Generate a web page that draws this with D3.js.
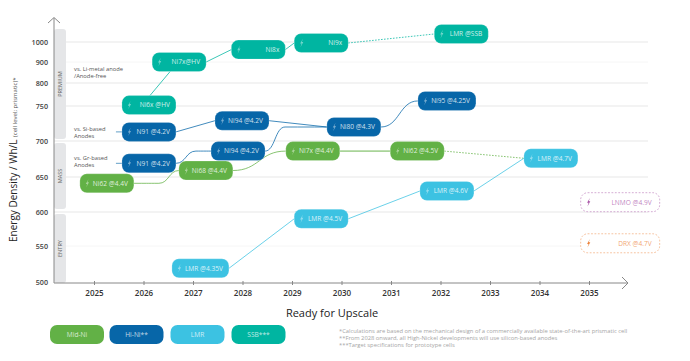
<!DOCTYPE html>
<html>
<head>
<meta charset="utf-8">
<script src="https://cdn.jsdelivr.net/npm/d3@7"></script>
<style>
  html, body { margin: 0; padding: 0; background: #fff; }
  svg { display: block; font-family: "Open Sans", sans-serif; }
</style>
</head>
<body>
<div id="chart"></div>
<script>
const years = [2025, 2026, 2027, 2028, 2029, 2030, 2031, 2032, 2033, 2034, 2035];
const densityTicks = [500, 550, 600, 650, 700, 750, 800, 900, 1000];
const strongGrid = [600, 650, 700, 750, 800, 1000];
const faintGrid = [550, 900];

const pillLabels = ["Ni62 @4.4V", "Ni6x @HV", "Ni7x@HV", "Ni8x", "Ni9x", "LMR @SSB", "N91 @4.2V", "Ni94 @4.2V", "N91 @4.2V", "Ni94 @4.2V", "Ni68 @4.4V", "Ni80 @4.3V", "Ni95 @4.25V", "Ni7x @4.4V", "Ni62 @4.5V", "LMR @4.7V", "LMR @4.35V", "LMR @4.5V", "LMR @4.6V", "LNMO @4.9V", "DRX @4.7V"];
const pillYears = [2025.26, 2026.11, 2026.72, 2028.32, 2029.59, 2032.42, 2026.11, 2027.99, 2026.11, 2027.91, 2027.26, 2030.25, 2032.13, 2029.42, 2031.53, 2034.23, 2027.15, 2029.59, 2032.13, 2035.63, 2035.63];
const pillDensity = [641, 752, 900, 962, 995, 1040, 713, 729, 669, 686, 659, 720, 761, 686, 686, 676, 519, 590, 630, 614, 554];
const pillSeries = ["mid", "ssb", "ssb", "ssb", "ssb", "ssb", "hi", "hi", "hi", "hi", "mid", "hi", "hi", "mid", "mid", "lmr", "lmr", "lmr", "lmr", "lnmo", "drx"];

// links between pills, by index into the arrays above
const linkFrom = [0, 10, 13, 14, 1, 2, 3, 4, 6, 8, 7, 9, 11, 16, 17, 18];
const linkTo = [10, 13, 14, 15, 2, 3, 4, 5, 7, 9, 11, 11, 12, 17, 18, 15];
const linkKind = ["late", "bump", "thick", "dotted", "top", "line", "line", "dotted", "line", "early", "line", "early", "bump", "line", "line", "line"];

const legendLabels = ["Mid-Ni", "Hi-Ni**", "LMR", "SSB***"];
const legendSeries = ["mid", "hi", "lmr", "ssb"];

const bandLabels = ["PREMIUM", "MASS", "ENTRY"];
const sideNotes = [["vs. Li-metal anode", "/Anode-free"], ["vs. Si-based", "Anodes"], ["vs. Gr-based", "Anodes"]];
const footnotes = [
  "*Calculations are based on the mechanical design of a commercially available state-of-the-art prismatic cell",
  "**From 2028 onward, all High-Nickel developments will use silicon-based anodes",
  "***Target specifications for prototype cells"
];

const color = { mid: "#62b146", hi: "#0766a8", lmr: "#3cc2e2", ssb: "#00b5a1", lnmo: "#a2479f", drx: "#ec7a2c" };
const width = 690, height = 361;
const pillH = 19;
const bendRun = 20;

const x = d3.scaleLinear().domain([2025, 2035]).range([94, 589]);
const y = d3.scaleLinear().domain(densityTicks).range([282, 246, 212, 177, 141, 106, 83, 62, 42]);

const svg = d3.select("#chart").append("svg").attr("width", width).attr("height", height);

function pillWidth(i) {
  if (pillSeries[i] === "lnmo" || pillSeries[i] === "drx") return 79;
  if (pillLabels[i] === "Ni95 @4.25V") return 58;
  if (pillLabels[i] === "LMR @4.35V") return 57;
  return 54;
}

// grid
svg.append("g").selectAll("line").data(strongGrid.concat(faintGrid)).join("line")
  .attr("x1", 54).attr("x2", 648)
  .attr("y1", d => y(d)).attr("y2", d => y(d))
  .attr("stroke", d => faintGrid.includes(d) ? "#f6f6f6" : "#e7e7e7")
  .attr("stroke-width", 1);

// market bands
const bandTop = [29, 143, 214], bandBottom = [139, 209, 283];
const bands = svg.append("g");
bandLabels.forEach((b, i) => {
  bands.append("rect").attr("x", 54).attr("y", bandTop[i])
    .attr("width", 12).attr("height", bandBottom[i] - bandTop[i])
    .attr("rx", 3).attr("fill", "#e5e6e8");
  const my = (bandTop[i] + bandBottom[i]) / 2;
  bands.append("text").attr("transform", `translate(62,${my}) rotate(-90)`)
    .attr("text-anchor", "middle").attr("font-size", 5.6).attr("fill", "#666").text(b);
});

// axes
const xAxis = svg.append("g").attr("transform", "translate(0,283)")
  .call(d3.axisBottom(x).tickValues(years).tickFormat(d3.format("d")).tickSize(3).tickPadding(4));
xAxis.select(".domain").remove();
xAxis.selectAll("line").attr("stroke", "#888").attr("y1", -2).attr("y2", 2);
xAxis.selectAll("text").attr("font-size", 8).attr("font-weight", 600).attr("fill", "#333").attr("font-family", "Open Sans");

const yAxis = svg.append("g").attr("transform", "translate(54,0)")
  .call(d3.axisLeft(y).tickValues(densityTicks).tickFormat(d3.format("d")).tickSize(0).tickPadding(6));
yAxis.select(".domain").remove();
yAxis.selectAll("text").attr("font-size", 7.2).attr("font-weight", 600).attr("fill", "#444").attr("font-family", "Open Sans");

svg.append("path").attr("d", "M54,283H628M622,277L628,283L622,289").attr("fill", "none").attr("stroke", "#888").attr("stroke-width", 1);
svg.append("path").attr("d", "M54,283V18M48,23L54,17.5L60,23").attr("fill", "none").attr("stroke", "#888").attr("stroke-width", 1);

// axis titles
const yTitle = svg.append("text").attr("transform", "translate(17,242) rotate(-90)").attr("fill", "#222");
yTitle.append("tspan").attr("font-size", 10).attr("font-weight", 500).text("Energy Density / Wh/L ");
yTitle.append("tspan").attr("font-size", 6).attr("fill", "#555").text("(cell level; prismatic)*");

svg.append("text").attr("x", 332).attr("y", 317).attr("text-anchor", "middle")
  .attr("font-size", 11).attr("font-weight", 500).attr("fill", "#222").text("Ready for Upscale");

// side notes
const noteY = [71, 131, 160];
sideNotes.forEach((lines, i) => {
  lines.forEach((l, j) => {
    svg.append("text").attr("x", 74).attr("y", noteY[i] + j * 7).attr("font-size", 5.8).attr("fill", "#555").text(l);
  });
});

// links
const bump = d3.line().curve(d3.curveBumpX);
const links = svg.append("g").attr("fill", "none");
linkFrom.forEach((a, k) => {
  const b = linkTo[k], kind = linkKind[k];
  let p0 = [x(pillYears[a]) + pillWidth(a) / 2, y(pillDensity[a])];
  let p1 = [x(pillYears[b]) - pillWidth(b) / 2, y(pillDensity[b])];
  if (kind === "top") {
    p0 = [x(pillYears[a]) + 1, y(pillDensity[a]) - pillH / 2];
    p1 = [x(pillYears[b]) - 9, y(pillDensity[b]) + pillH / 2];
  }
  const path = links.append("path")
    .attr("stroke", color[pillSeries[a]])
    .attr("stroke-width", kind === "thick" ? 1.6 : 0.9)
    .attr("stroke-opacity", kind === "thick" ? 0.55 : 0.85);
  if (kind === "bump") path.attr("d", bump([p0, p1]));
  else if (kind === "early") path.attr("d", bump([p0, [p0[0] + bendRun, p1[1]], p1]));
  else if (kind === "late") path.attr("d", bump([p0, [p1[0] - bendRun, p0[1]], p1]));
  else path.attr("d", d3.line()([p0, p1]));
  if (kind === "dotted") path.attr("stroke-dasharray", "1.6 1.4");
});

// stubs into the two N91 pills
[6, 8].forEach(i => {
  const px = x(pillYears[i]) - pillWidth(i) / 2;
  links.append("line").attr("x1", px - 6).attr("x2", px)
    .attr("y1", y(pillDensity[i])).attr("y2", y(pillDensity[i]))
    .attr("stroke", color.hi).attr("stroke-opacity", 0.7).attr("stroke-width", 0.9);
});

// pills
const boltPath = "M1.2,-4.2L-1.6,0.6L-0.1,0.6L-1.2,4.2L1.6,-1L0.1,-1Z";
const pills = svg.append("g").selectAll("g").data(pillLabels).join("g")
  .attr("transform", (d, i) => `translate(${x(pillYears[i])},${y(pillDensity[i])})`);

pills.each(function (d, i) {
  const g = d3.select(this), w = pillWidth(i), s = pillSeries[i];
  const outlined = s === "lnmo" || s === "drx";
  g.append("rect").attr("x", -w / 2).attr("y", -pillH / 2)
    .attr("width", w).attr("height", pillH).attr("rx", 7)
    .attr("fill", outlined ? "#fff" : color[s])
    .attr("stroke", outlined ? color[s] : "#fff")
    .attr("stroke-opacity", outlined ? 0.5 : 0.4)
    .attr("stroke-width", outlined ? 0.9 : 0.5)
    .attr("stroke-dasharray", outlined ? "1.8 1.6" : null);
  g.append("path").attr("d", boltPath)
    .attr("transform", `translate(${-w / 2 + (outlined ? 8 : 7.5)},0)`)
    .attr("fill", outlined ? color[s] : "#fff").attr("fill-opacity", outlined ? 0.95 : 0.45);
  g.append("text").attr("x", w / 2 - (outlined ? 8 : 6)).attr("y", 2.4)
    .attr("text-anchor", "end").attr("font-size", 6.6)
    .attr("fill", outlined ? color[s] : "#fff").attr("fill-opacity", outlined ? 0.7 : 0.82)
    .text(d);
});

// legend
const legendX = [77, 136.5, 197.5, 258.5];
legendLabels.forEach((l, i) => {
  const g = svg.append("g").attr("transform", `translate(${legendX[i]},334.5)`);
  g.append("rect").attr("x", -27).attr("y", -pillH / 2).attr("width", 54).attr("height", pillH)
    .attr("rx", 7).attr("fill", color[legendSeries[i]]);
  g.append("text").attr("y", 2.4).attr("text-anchor", "middle").attr("font-size", 6.6)
    .attr("fill", "#fff").attr("fill-opacity", 0.75).text(l);
});

// footnotes
svg.append("g").selectAll("text").data(footnotes).join("text")
  .attr("x", 339).attr("y", (d, i) => 333 + i * 7)
  .attr("font-size", 5.8).attr("fill", "#a5a5a5").text(d => d);
</script>
</body>
</html>
